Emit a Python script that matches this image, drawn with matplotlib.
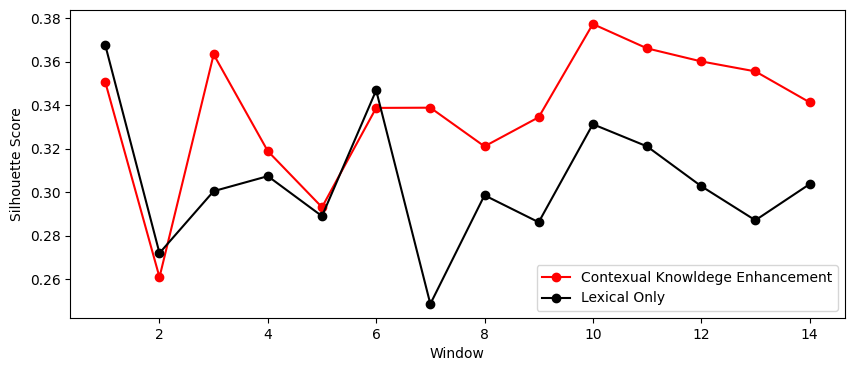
import matplotlib
matplotlib.use('Agg')
import matplotlib.pyplot as plt

windows = list(range(1, 15))
contextual = [0.3506, 0.2609, 0.3634, 0.3189, 0.2931, 0.3388, 0.3389,
              0.3211, 0.3345, 0.3774, 0.3662, 0.3602, 0.3556, 0.3414]
lexical = [0.3676, 0.2720, 0.3005, 0.3074, 0.2890, 0.3469, 0.2486,
           0.2986, 0.2862, 0.3313, 0.3211, 0.3028, 0.2871, 0.3037]

fig, ax = plt.subplots(figsize=(8.55, 3.71), dpi=100)
fig.subplots_adjust(left=0.082, right=0.988, top=0.973, bottom=0.143)

ax.plot(windows, contextual, marker='o', color='red',
        label='Contexual Knowldege Enhancement')
ax.plot(windows, lexical, marker='o', color='black', label='Lexical Only')

ax.set_xlabel('Window')
ax.set_ylabel('Silhouette Score')
ax.legend(loc='lower right')

fig.savefig('out.png', dpi=100)
